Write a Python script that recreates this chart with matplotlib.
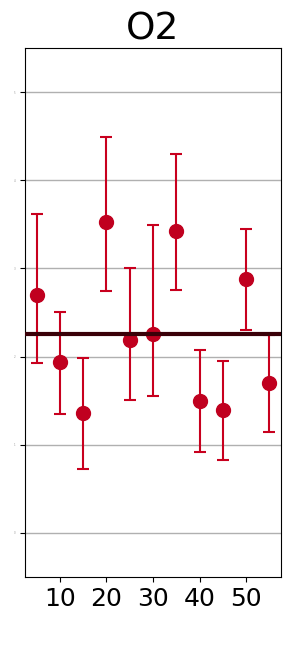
import numpy as np
import matplotlib.pyplot as plt

# data
x = [5, 10, 15, 20, 25, 30, 35, 40, 45, 50, 55]
y = [2.70, 1.94, 1.36, 3.53, 2.19, 2.26, 3.42, 1.50, 1.40, 2.88, 1.70]
y_top = [3.62, 2.51, 1.98, 4.49, 3.01, 3.49, 4.30, 2.07, 1.95, 3.45, 2.24]
y_bot = [1.93, 1.35, 0.72, 2.74, 1.51, 1.55, 2.76, 0.92, 0.83, 2.30, 1.15]
ref_level = 2.26
y_ticks = [0, 1, 2, 3, 4, 5]

y = np.array(y)
yerr = [y - np.array(y_bot), np.array(y_top) - y]

fig = plt.figure(figsize=(2.91, 6.68), dpi=100)
ax = fig.add_axes([0.0859, 0.1362, 0.8797, 0.7919])

ax.errorbar(x, y, yerr=yerr, fmt='o', color='#c0001f', ecolor='#c8001e',
            markersize=10, elinewidth=1.5, capsize=4.5, capthick=1.5, zorder=3)
ax.axhline(ref_level, color='#3a0008', linewidth=3, zorder=4)

ax.set_xlim(2.5, 57.5)
ax.set_ylim(-0.5, 5.5)
ax.set_xticks([10, 20, 30, 40, 50])
ax.set_yticks(y_ticks)
ax.set_yticklabels([str(t) for t in y_ticks], fontsize=2, color='#999999')
ax.tick_params(axis='x', labelsize=18)
ax.grid(axis='y', color='#b0b0b0', linewidth=1)
ax.set_axisbelow(True)
ax.set_title('O2', fontsize=27)

plt.savefig('out.png', dpi=100)
